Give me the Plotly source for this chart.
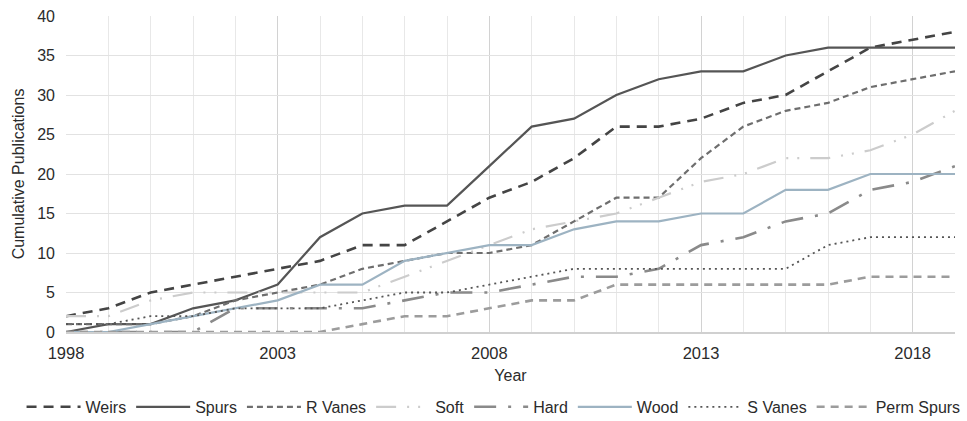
import plotly.graph_objects as go

years = list(range(1998, 2020))

weirs      = [2, 3, 5, 6, 7, 8, 9, 11, 11, 14, 17, 19, 22, 26, 26, 27, 29, 30, 33, 36, 37, 38]
spurs      = [0, 1, 1, 3, 4, 6, 12, 15, 16, 16, 21, 26, 27, 30, 32, 33, 33, 35, 36, 36, 36, 36]
r_vanes    = [1, 1, 1, 2, 4, 5, 6, 8, 9, 10, 10, 11, 14, 17, 17, 22, 26, 28, 29, 31, 32, 33]
soft       = [2, 2, 4, 5, 5, 5, 5, 5, 7, 9, 11, 13, 14, 15, 17, 19, 20, 22, 22, 23, 25, 28]
hard       = [0, 0, 0, 0, 3, 3, 3, 3, 4, 5, 5, 6, 7, 7, 8, 11, 12, 14, 15, 18, 19, 21]
wood       = [0, 0, 1, 2, 3, 4, 6, 6, 9, 10, 11, 11, 13, 14, 14, 15, 15, 18, 18, 20, 20, 20]
s_vanes    = [1, 1, 2, 2, 3, 3, 3, 4, 5, 5, 6, 7, 8, 8, 8, 8, 8, 8, 11, 12, 12, 12]
perm_spurs = [0, 0, 0, 0, 0, 0, 0, 1, 2, 2, 3, 4, 4, 6, 6, 6, 6, 6, 6, 7, 7, 7]

series = [
    ("Weirs", weirs, "#444444", 2.6, "10px,7px"),
    ("Spurs", spurs, "#555555", 2.2, "solid"),
    ("R Vanes", r_vanes, "#6e6e6e", 2.2, "6px,4px"),
    ("Soft", soft, "#cccccc", 2.2, "20px,11px,2px,9px,2px,11px"),
    ("Hard", hard, "#8a8a8a", 2.6, "22px,12px,3px,12px"),
    ("Wood", wood, "#9db3c2", 2.2, "solid"),
    ("S Vanes", s_vanes, "#555555", 1.8, "2px,4px"),
    ("Perm Spurs", perm_spurs, "#9c9c9c", 2.6, "8px,6px"),
]

fig = go.Figure()
for name, vals, color, width, dash in series:
    fig.add_trace(go.Scatter(
        x=years, y=vals, name=name, mode="lines",
        line=dict(color=color, width=width, dash=dash),
    ))

font_family = "Liberation Sans, Arial, sans-serif"
txt = "#2b2b2b"

fig.update_layout(
    width=967, height=421,
    margin=dict(l=66, r=12, t=16, b=89, autoexpand=False),
    paper_bgcolor="white", plot_bgcolor="white",
    font=dict(family=font_family, size=16, color=txt),
    showlegend=True,
    legend=dict(
        orientation="h", x=-0.05, xanchor="left", y=-0.237, yanchor="middle",
        font=dict(size=16, color=txt), itemwidth=54,
        traceorder="normal", bgcolor="rgba(0,0,0,0)",
    ),
    xaxis=dict(
        range=[1998, 2019], tick0=1998, dtick=5, tickmode="linear",
        showgrid=True, gridcolor="#d2d2d2", gridwidth=1,
        minor=dict(dtick=1, tick0=1998, showgrid=True, gridcolor="#e8e8e8", gridwidth=1),
        showline=True, linecolor="#d0d0d0", linewidth=1.5,
        zeroline=False, ticks="", automargin=False, ticklabelstandoff=5,
        title=dict(text="Year", font=dict(size=16, color=txt), standoff=9),
        tickfont=dict(size=16.5, color=txt),
    ),
    yaxis=dict(
        range=[0, 40], dtick=5, tick0=0, tickmode="linear",
        showgrid=True, gridcolor="#e2e2e2", gridwidth=1,
        zeroline=False, showline=False, ticks="", automargin=False, ticklabelstandoff=10,
        title=dict(text="Cumulative Publications", font=dict(size=16, color=txt), standoff=8),
        tickfont=dict(size=16, color=txt),
    ),
)

fig.write_html("out.html")
